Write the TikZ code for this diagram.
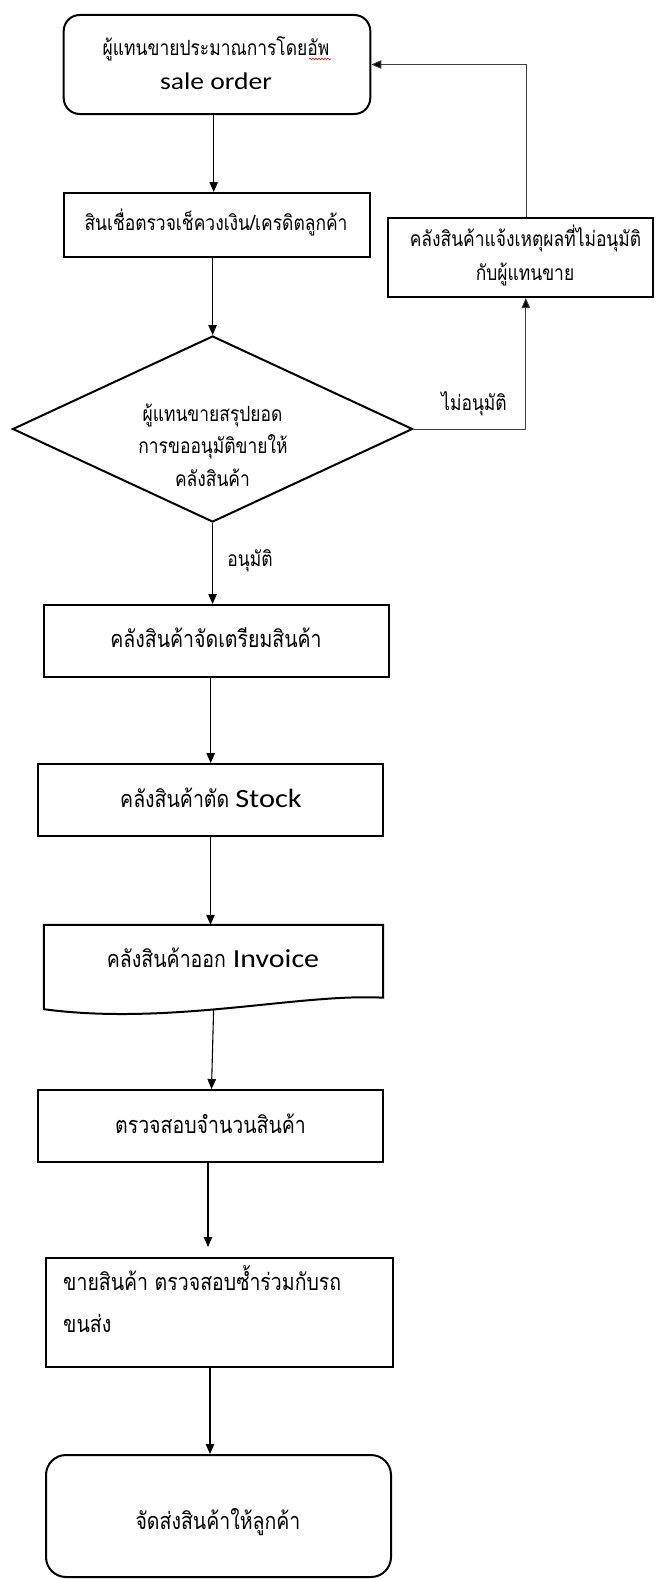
\documentclass[tikz,border=0pt]{standalone}
\usepackage{fontspec}
\usetikzlibrary{arrows.meta,shapes.geometric,decorations.pathmorphing}
\newfontfamily\thai[Script=Thai,FakeStretch=0.83]{Loma}
\newfontfamily\lat[FakeStretch=1.15]{Carlito}
\newcommand\thsize{\fontsize{21}{24}\selectfont}
\newcommand\thbig{\fontsize{23.5}{27}\selectfont}

\begin{document}
\begin{tikzpicture}[x=1pt,y=-1pt,
  box/.style={draw,line width=2pt,inner sep=0pt},
  rbox/.style={box,rounded corners=16pt},
  conn/.style={line width=1.1pt,-{Triangle[length=10pt,width=8.5pt]}},
  back/.style={line width=0.9pt,draw=black!75,-{Triangle[length=10pt,width=8.5pt,fill=black]}},
  th/.style={inner sep=0pt,anchor=base,font=\thai\thsize},
  thb/.style={inner sep=0pt,anchor=base,font=\thai\thbig},
  ltn/.style={inner sep=0pt,anchor=base,font=\lat\fontsize{24}{28}\selectfont},
]
\useasboundingbox (0,0) rectangle (657,1579);

% boxes of the flow
\node[rbox,minimum width=306.6pt,minimum height=99pt] (b1) at (217,64.5) {};
\node[box,minimum width=306.6pt,minimum height=64pt] (b2) at (217,225) {};
\node[box,minimum width=265pt,minimum height=79pt] (rej) at (520.5,257.5) {};
\node[draw,line width=2pt,shape=diamond,inner sep=0pt,minimum width=400pt,minimum height=186pt] (dec) at (212.6,429) {};
\node[box,minimum width=345pt,minimum height=72pt] (b3) at (216.5,641) {};
\node[box,minimum width=345pt,minimum height=72pt] (b4) at (210.5,800) {};
\node[inner sep=0pt,minimum width=339pt,minimum height=72pt] (b5) at (213.5,961) {};
\node[box,minimum width=345pt,minimum height=72pt] (b6) at (210.5,1126) {};
\node[box,minimum width=347pt,minimum height=109pt] (b7) at (219.5,1312.5) {};
\node[rbox,rounded corners=20pt,minimum width=345pt,minimum height=122pt] (b8) at (218.5,1516) {};

% document shape with a wavy lower edge
\draw[line width=2pt,line join=miter] (b5.south west) -- (b5.north west) -- (b5.north east) -- ([yshift=-0.5pt]b5.south east)
  .. controls (300,993) and (170,1026) .. ([yshift=-12pt]b5.south west) -- cycle;
\coordinate (b5out) at (213.6,1009.5);

% texts
\node[th] (t1a) at (216,56) {ผู้แทนขายประมาณการโดยอัพ};
\node[ltn] (t1b) at (216,89) {sale order};
\draw[red,line width=0.6pt,decorate,decoration={snake,amplitude=0.8pt,segment length=3pt}] (309,59) -- (331,59);
\node[th] (t2) at (216,230) {สินเชื่อตรวจเช็ควงเงิน/เครดิตลูกค้า};
\node[th] (tr1) at (525.5,246.5) {คลังสินค้าแจ้งเหตุผลที่ไม่อนุมัติ};
\node[th] (tr2) at (525,280.5) {กับผู้แทนขาย};
\node[th] (td1) at (212.5,421.5) {ผู้แทนขายสรุปยอด};
\node[th] (td2) at (213,453.5) {การขออนุมัติขายให้};
\node[th] (td3) at (212.5,486.5) {คลังสินค้า};
\node[th] (lno) at (474,410.5) {ไม่อนุมัติ};
\node[th] (lyes) at (250,566) {อนุมัติ};
\node[thb] (t3) at (216,647) {คลังสินค้าจัดเตรียมสินค้า};
\node[inner sep=0pt,anchor=base] (t4) at (211,807) {\thai\thbig คลังสินค้าตัด\hspace{6pt}\lat\fontsize{26.4}{30}\selectfont Stock};
\node[inner sep=0pt,anchor=base] (t5) at (213,967) {\thai\thbig คลังสินค้าออก\hspace{7pt}\lat\fontsize{26}{30}\selectfont Invoice};
\node[thb] (t6) at (210.5,1133) {ตรวจสอบจำนวนสินค้า};
\node[thb,anchor=base west] (t7a) at (63,1290) {ขายสินค้า ตรวจสอบซ้ำร่วมกับรถ};
\node[thb,anchor=base west] (t7b) at (63,1332) {ขนส่ง};
\node[thb] (t8) at (218,1529) {จัดส่งสินค้าให้ลูกค้า};

% connectors
\draw[conn] ([xshift=-3.3pt]b1.south) -- ([xshift=-3.3pt]b1.south |- b2.north);
\draw[conn] (dec.north |- b2.south) -- (dec.north);
\draw[conn] (dec.south) -- (dec.south |- b3.north);
\draw[conn] ([xshift=-5.8pt]b3.south) -- ([xshift=-5.8pt]b3.south |- b4.north);
\draw[conn] (b4.south) -- (b4.south |- b5.north);
\draw[conn] (b5out) -- ([xshift=1pt]b6.north);
\draw[conn,shorten >=10pt] ([xshift=-2.5pt]b6.south) -- ([xshift=-2.5pt]b6.south |- b7.north);
\draw[conn] ([xshift=-9.5pt]b7.south) -- ([xshift=-9.5pt]b7.south |- b8.north);
\draw[back] (dec.east) -| ([xshift=5.3pt]rej.south);
\draw[back] ([xshift=6pt]rej.north) |- (b1.east);
\end{tikzpicture}
\end{document}
